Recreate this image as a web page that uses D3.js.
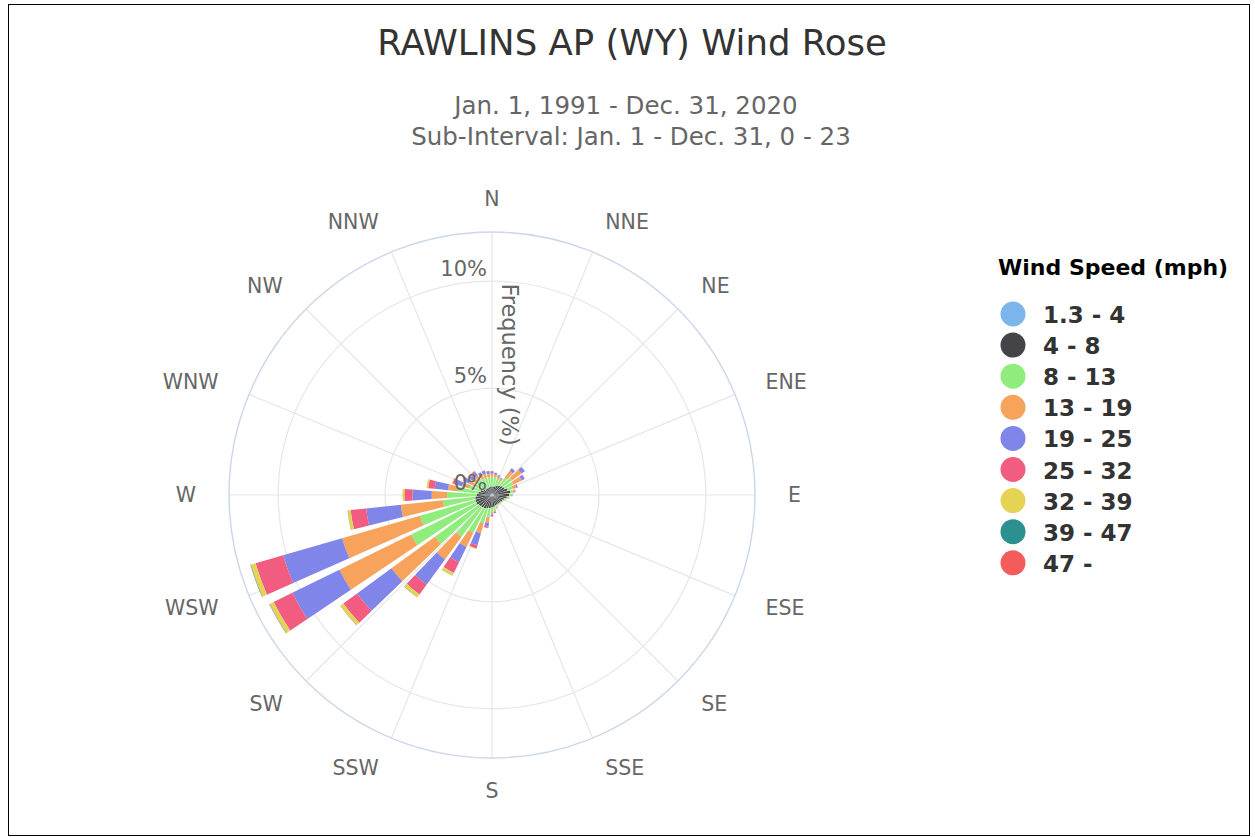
<!DOCTYPE html>
<html>
<head>
<meta charset="utf-8">
<script src="https://cdn.jsdelivr.net/npm/d3@7/dist/d3.min.js"></script>
<style>
  html, body { margin: 0; padding: 0; background: #fff; }
  svg { display: block; font-family: "DejaVu Sans", Verdana, sans-serif; }
</style>
</head>
<body>
<svg id="chart" width="1255" height="837"></svg>
<script>
// Wind direction bins (degrees, 10° wide, centred on the value)
const directions = [0, 10, 20, 30, 40, 50, 60, 70, 80, 90, 100, 110, 120, 130, 140, 150, 160, 170,
                    180, 190, 200, 210, 220, 230, 240, 250, 260, 270, 280, 290, 300, 310, 320, 330, 340, 350];

// Compass labels drawn round the rim
const compassLabels = ["N", "NNE", "NE", "ENE", "E", "ESE", "SE", "SSE",
                       "S", "SSW", "SW", "WSW", "W", "WNW", "NW", "NNW"];

// Wind speed classes (mph)
const speedBins = ["1.3 - 4", "4 - 8", "8 - 13", "13 - 19", "19 - 25", "25 - 32", "32 - 39", "39 - 47", "47 -"];

// Frequency (%) per direction for each speed class
const freq_1_4 = [0.08, 0.08, 0.07, 0.08, 0.08, 0.09, 0.08, 0.08, 0.09, 0.08, 0.08, 0.07, 0.07, 0.07, 0.07, 0.07, 0.07, 0.08,
                  0.08, 0.08, 0.08, 0.09, 0.09, 0.09, 0.09, 0.09, 0.09, 0.08, 0.08, 0.08, 0.08, 0.07, 0.07, 0.07, 0.08, 0.08];
const freq_4_8 = [0.32, 0.32, 0.37, 0.42, 0.47, 0.52, 0.57, 0.67, 0.77, 0.72, 0.62, 0.52, 0.47, 0.44, 0.42, 0.42, 0.44, 0.47,
                  0.50, 0.54, 0.57, 0.62, 0.64, 0.67, 0.72, 0.72, 0.70, 0.64, 0.57, 0.47, 0.37, 0.32, 0.32, 0.30, 0.30, 0.30];
const freq_8_13 = [0.45, 0.43, 0.35, 0.25, 0.45, 0.55, 0.45, 0.25, 0.13, 0.10, 0.08, 0.06, 0.05, 0.04, 0.05, 0.06, 0.08, 0.17,
                   0.22, 0.43, 0.73, 1.26, 1.68, 2.55, 3.40, 2.70, 1.52, 1.38, 1.00, 0.55, 0.50, 0.50, 0.50, 0.47, 0.47, 0.47];
const freq_13_19 = [0.15, 0.14, 0.13, 0.10, 0.40, 0.55, 0.45, 0.18, 0.08, 0.04, 0.03, 0.02, 0.02, 0.02, 0.02, 0.03, 0.05, 0.08,
                    0.12, 0.25, 0.49, 0.74, 1.32, 2.51, 3.74, 3.79, 1.98, 0.72, 0.42, 0.35, 0.25, 0.25, 0.25, 0.20, 0.20, 0.15];
const freq_19_25 = [0.10, 0.08, 0.06, 0.05, 0.15, 0.18, 0.15, 0.07, 0.04, 0.02, 0.01, 0.01, 0.00, 0.00, 0.00, 0.00, 0.02, 0.05,
                    0.07, 0.18, 0.58, 0.80, 1.46, 1.99, 2.45, 2.87, 1.63, 0.90, 0.63, 0.33, 0.22, 0.15, 0.20, 0.13, 0.13, 0.13];
const freq_25_32 = [0.02, 0.01, 0.01, 0.00, 0.01, 0.02, 0.01, 0.01, 0.00, 0.00, 0.00, 0.00, 0.00, 0.00, 0.00, 0.00, 0.00, 0.01,
                    0.02, 0.07, 0.15, 0.55, 0.57, 0.80, 0.97, 1.34, 0.73, 0.38, 0.30, 0.14, 0.08, 0.05, 0.05, 0.02, 0.02, 0.01];
const freq_32_39 = [0.00, 0.00, 0.00, 0.00, 0.00, 0.00, 0.00, 0.00, 0.00, 0.00, 0.00, 0.00, 0.00, 0.00, 0.00, 0.00, 0.00, 0.00,
                    0.00, 0.02, 0.04, 0.14, 0.17, 0.18, 0.21, 0.23, 0.14, 0.09, 0.08, 0.03, 0.01, 0.01, 0.01, 0.00, 0.00, 0.00];
const freq_39_47 = [0, 0, 0, 0, 0, 0, 0, 0, 0, 0, 0, 0, 0, 0, 0, 0, 0, 0,
                    0, 0, 0, 0.01, 0.01, 0.01, 0.02, 0.02, 0.01, 0, 0, 0, 0, 0, 0, 0, 0, 0];
const freq_47_up = [0, 0, 0, 0, 0, 0, 0, 0, 0, 0, 0, 0, 0, 0, 0, 0, 0, 0,
                    0, 0, 0, 0, 0, 0, 0.005, 0.005, 0, 0, 0, 0, 0, 0, 0, 0, 0, 0];

const seriesValues = [freq_1_4, freq_4_8, freq_8_13, freq_13_19, freq_19_25, freq_25_32, freq_32_39, freq_39_47, freq_47_up];

// Radial axis ticks (%)
const radialTicks = [0, 5, 10];
const radialMax = 12.3;

const palette = ["#7cb5ec", "#434348", "#90ed7d", "#f7a35c", "#8085e9", "#f15c80", "#e4d354", "#2b908f", "#f45b5b"];

const svg = d3.select("#chart");

// outer frame
svg.append("rect").attr("x", 8.5).attr("y", 4.5).attr("width", 1241).attr("height", 831)
  .attr("fill", "none").attr("stroke", "#000").attr("stroke-width", 1);

// titles
svg.append("text").attr("x", 632).attr("y", 55).attr("text-anchor", "middle")
  .attr("font-size", 35.5).attr("fill", "#333").text("RAWLINS AP (WY) Wind Rose");
svg.append("text").attr("x", 626).attr("y", 114).attr("text-anchor", "middle")
  .attr("font-size", 24.5).attr("fill", "#666").text("Jan. 1, 1991 - Dec. 31, 2020");
svg.append("text").attr("x", 631).attr("y", 145).attr("text-anchor", "middle")
  .attr("font-size", 24.5).attr("fill", "#666").text("Sub-Interval: Jan. 1 - Dec. 31, 0 - 23");

const cx = 492, cy = 495, R = 263;
const g = svg.append("g").attr("transform", `translate(${cx},${cy})`);

const rad = d3.scaleLinear().domain([0, radialMax]).range([0, R]);
const toRad = d => d * Math.PI / 180;

const angle = d3.scaleBand()
  .domain(directions)
  .range([-toRad(5), 2 * Math.PI - toRad(5)])
  .paddingInner(0.22)
  .paddingOuter(0.11);

// grid: spokes
const spokeAngles = compassLabels.map((_, i) => i * 22.5);
g.append("g").selectAll("line").data(spokeAngles).join("line")
  .attr("x1", 0).attr("y1", 0)
  .attr("x2", a => R * Math.sin(toRad(a)))
  .attr("y2", a => -R * Math.cos(toRad(a)))
  .attr("stroke", "#e6e6e6").attr("stroke-width", 1.2);

// grid: rings
g.append("g").selectAll("circle").data(radialTicks.filter(t => t > 0)).join("circle")
  .attr("r", t => rad(t)).attr("fill", "none").attr("stroke", "#e6e6e6").attr("stroke-width", 1.2);
g.append("circle").attr("r", R).attr("fill", "none").attr("stroke", "#ccd6eb").attr("stroke-width", 1.4);

// stacked bars
const rows = directions.map((d, i) => {
  const row = { dir: d };
  speedBins.forEach((s, k) => { row[s] = seriesValues[k][i]; });
  return row;
});
const stacked = d3.stack().keys(speedBins)(rows);
const arc = d3.arc();

const barLayer = g.append("g");
stacked.forEach((layer, k) => {
  barLayer.append("g").selectAll("path").data(layer).join("path")
    .attr("d", p => arc({
      innerRadius: rad(p[0]),
      outerRadius: rad(p[1]),
      startAngle: angle(p.data.dir),
      endAngle: angle(p.data.dir) + angle.bandwidth()
    }))
    .attr("fill", palette[k]);
});

// radial tick labels
g.append("g").selectAll("text").data(radialTicks).join("text")
  .attr("x", -5).attr("y", t => -rad(t) - 5)
  .attr("text-anchor", "end").attr("font-size", 21).attr("fill", "#666")
  .text(t => t + "%");

// radial axis title
g.append("text").attr("transform", `translate(${18},${-rad(6.1)}) rotate(90)`)
  .attr("text-anchor", "middle").attr("dominant-baseline", "central")
  .attr("font-size", 22.5).attr("fill", "#666").text("Frequency (%)");

// compass labels
const labelR = 296;
g.append("g").selectAll("text").data(compassLabels).join("text")
  .each(function (lab, i) {
    const a = toRad(i * 22.5);
    const s = Math.sin(a), c = Math.cos(a);
    d3.select(this)
      .attr("x", labelR * s).attr("y", -labelR * c)
      .attr("text-anchor", Math.abs(s) < 0.1 ? "middle" : (s > 0 ? "start" : "end"))
      .attr("dominant-baseline", "central");
  })
  .attr("font-size", 20.5).attr("fill", "#666").text(d => d);

// legend
const legend = svg.append("g").attr("transform", "translate(998,0)");
legend.append("text").attr("x", 0).attr("y", 275).attr("font-size", 22).attr("font-weight", "bold")
  .attr("fill", "#000").text("Wind Speed (mph)");
const item = legend.selectAll("g.item").data(speedBins).join("g").attr("class", "item")
  .attr("transform", (d, i) => `translate(0,${314 + i * 31.1})`);
item.append("circle").attr("cx", 15).attr("cy", 0).attr("r", 12.5).attr("fill", (d, i) => palette[i]);
item.append("text").attr("x", 45).attr("y", 1).attr("dominant-baseline", "central")
  .attr("font-size", 23).attr("font-weight", "bold").attr("fill", "#333").text(d => d);
</script>
</body>
</html>
